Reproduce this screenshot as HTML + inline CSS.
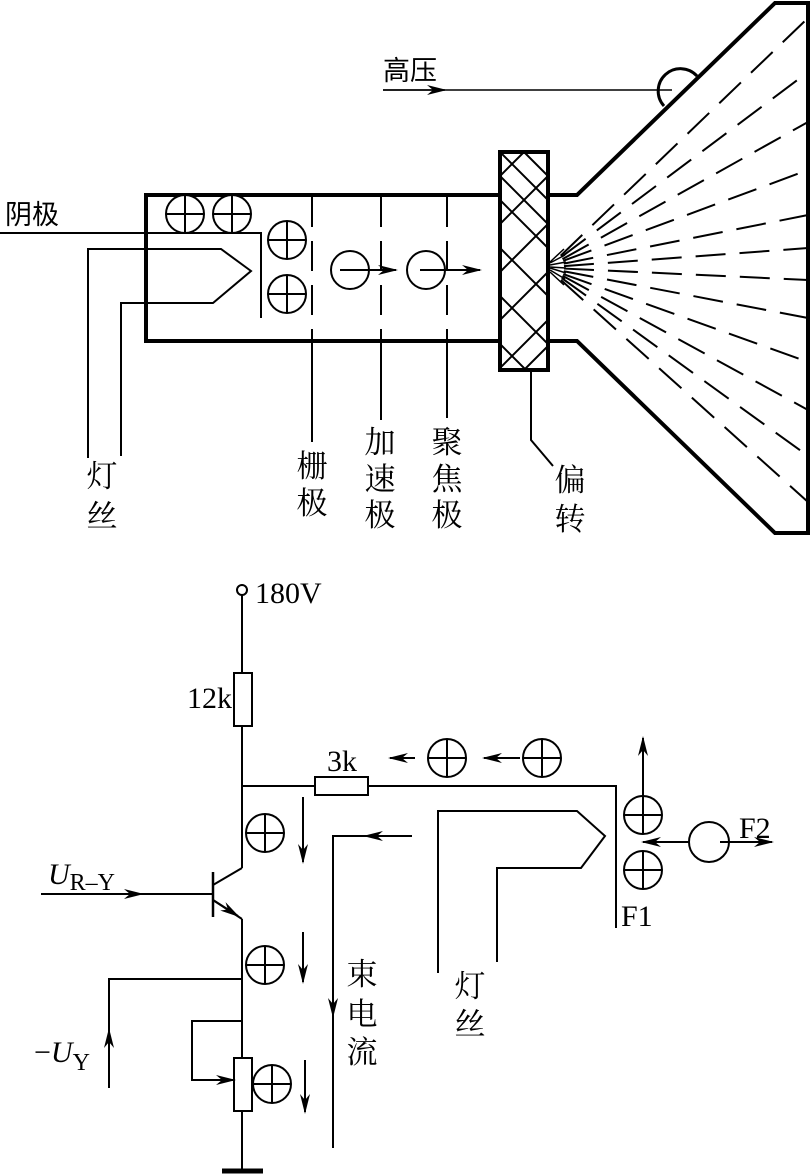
<!DOCTYPE html>
<html><head><meta charset="utf-8"><style>
html,body{margin:0;padding:0;background:#fff}
svg{display:block}
text{font-family:"Liberation Serif","Noto Serif CJK SC","Noto Sans CJK SC",serif;fill:#000}
.cj{font-family:"Noto Sans CJK SC","WenQuanYi Zen Hei",sans-serif;font-size:31px}
</style></head><body>
<svg width="812" height="1174" viewBox="0 0 812 1174" xmlns="http://www.w3.org/2000/svg">
<defs>
<marker id="ah" viewBox="0 0 20 10" refX="18" refY="5" markerWidth="20" markerHeight="10" markerUnits="userSpaceOnUse" orient="auto">
<path d="M0,0 L20,5 L0,10 L6,5 Z" fill="#000"/></marker>
<g id="plus"><circle r="19" fill="#fff" stroke="#000" stroke-width="2"/><line x1="-19" y1="0" x2="19" y2="0" stroke="#000" stroke-width="2"/><line x1="0" y1="-19" x2="0" y2="19" stroke="#000" stroke-width="2"/></g>
<clipPath id="yk"><rect x="500" y="152" width="48" height="218"/></clipPath>
</defs>
<g fill="none" stroke="#000">
<rect x="146" y="195" width="354" height="146" stroke-width="4"/>
<path d="M548 195 L577 195 L775 3 L808 3 L808 533 L775 533 L577 341 L548 341" stroke-width="4"/>
<g clip-path="url(#yk)" stroke-width="2">
<path d="M500 152 L548 200 M500 200 L548 248 M500 248 L548 296 M500 296 L548 344 M500 344 L548 392 M500 104 L548 152 M500 176 L524 152 M500 224 L548 176 M500 272 L548 224 M500 320 L548 272 M500 368 L548 320 M524 370 L548 346 M500 128 L548 80"/>
<path d="M524 152 L548 176 M500 176 L548 224"/>
</g>
<rect x="500" y="152" width="48" height="218" stroke-width="4"/>
<path d="M664 106 A21 21 0 1 1 697 76" stroke-width="3"/>
<line x1="383" y1="90" x2="672" y2="90" stroke-width="1.5"/>
<line x1="383" y1="90" x2="445" y2="90" stroke-width="1.5" marker-end="url(#ah)"/>
<g stroke-width="2" stroke-dasharray="30 14" stroke-dashoffset="-12">
<line x1="552" y1="264" x2="808" y2="18"/>
<line x1="552" y1="264" x2="808" y2="72"/>
<line x1="552" y1="265" x2="808" y2="122"/>
<line x1="552" y1="265" x2="808" y2="170"/>
<line x1="552" y1="266" x2="808" y2="215"/>
<line x1="552" y1="267" x2="808" y2="248"/>
<line x1="552" y1="268" x2="808" y2="280"/>
<line x1="552" y1="269" x2="808" y2="318"/>
<line x1="552" y1="270" x2="808" y2="362"/>
<line x1="552" y1="270" x2="808" y2="410"/>
<line x1="552" y1="271" x2="808" y2="456"/>
<line x1="552" y1="272" x2="808" y2="502"/>
</g>
<g stroke-width="1.5">
<path d="M550 262 L564 249 M550 263 L565 255 M550 265 L566 262 M550 267 L566 268 M550 268 L566 273 M550 270 L565 279 M550 272 L564 285"/>
</g>
<g stroke-width="2" stroke-dasharray="30 14">
<line x1="312" y1="197" x2="312" y2="345"/>
<line x1="381" y1="197" x2="381" y2="345"/>
<line x1="447" y1="197" x2="447" y2="345"/>
</g>
<g stroke-width="2">
<line x1="312" y1="345" x2="312" y2="442"/>
<line x1="381" y1="345" x2="381" y2="420"/>
<line x1="447" y1="345" x2="447" y2="418"/>
<path d="M531 370 L531 440 L553 466"/>
<path d="M0 233 L261 233 L261 318"/>
<path d="M88 458 L88 249 L221 249 L251 271 L213 303 L121 303 L121 456"/>
</g>
<g stroke-width="2">
<circle cx="350" cy="270" r="19"/>
<line x1="340" y1="270" x2="396" y2="270" marker-end="url(#ah)"/>
<circle cx="426" cy="270" r="19"/>
<line x1="420" y1="270" x2="480" y2="270" marker-end="url(#ah)"/>
</g>
</g>
<use href="#plus" x="185" y="214"/>
<use href="#plus" x="232" y="214"/>
<use href="#plus" x="287" y="240"/>
<use href="#plus" x="287" y="294"/>
<text x="383" y="80" class="cj" style="font-size:27px">高压</text>
<text x="5" y="224" class="cj" style="font-size:27px">阴极</text>
<g class="cj" text-anchor="middle">
<text x="102" y="487">灯</text><text x="102" y="527">丝</text>
<text x="312" y="477">栅</text><text x="312" y="514">极</text>
<text x="380" y="453">加</text><text x="380" y="490">速</text><text x="380" y="526">极</text>
<text x="447" y="453">聚</text><text x="447" y="490">焦</text><text x="447" y="526">极</text>
<text x="570" y="491">偏</text><text x="570" y="530">转</text>
</g>

<g fill="none" stroke="#000" stroke-width="2">
<circle cx="242" cy="590" r="5"/>
<line x1="242" y1="595" x2="242" y2="673"/>
<rect x="234" y="673" width="18" height="53" fill="#fff"/>
<line x1="242" y1="726" x2="242" y2="868"/>
<line x1="242" y1="786" x2="315" y2="786"/>
<rect x="315" y="777" width="53" height="18"/>
<path d="M368 786 L616 786 L616 928"/>
<line x1="213" y1="872" x2="213" y2="917" stroke-width="2.5"/>
<line x1="242" y1="868" x2="213" y2="885"/>
<line x1="213" y1="900" x2="242" y2="919"/>
<line x1="213" y1="900" x2="238" y2="916" marker-end="url(#ah)"/>
<line x1="41" y1="894" x2="213" y2="894"/>
<line x1="41" y1="894" x2="142" y2="894" marker-end="url(#ah)"/>
<line x1="242" y1="919" x2="242" y2="1058"/>
<rect x="234" y="1058" width="18" height="53" fill="#fff"/>
<line x1="242" y1="1111" x2="242" y2="1170"/>
<line x1="222" y1="1171" x2="263" y2="1171" stroke-width="5"/>
<path d="M242 979 L109 979 L109 1088"/>
<line x1="109" y1="1070" x2="109" y2="1030" marker-end="url(#ah)"/>
<path d="M242 1021 L192 1021 L192 1080 L234 1080"/>
<line x1="200" y1="1080" x2="234" y2="1080" marker-end="url(#ah)"/>
<line x1="303" y1="797" x2="303" y2="862" marker-end="url(#ah)"/>
<line x1="303" y1="932" x2="303" y2="982" marker-end="url(#ah)"/>
<line x1="305" y1="1060" x2="305" y2="1112" marker-end="url(#ah)"/>
<path d="M333 1148 L333 836 L412 836"/>
<line x1="412" y1="836" x2="365" y2="836" marker-end="url(#ah)"/>
<line x1="333" y1="960" x2="333" y2="1016" marker-end="url(#ah)"/>
<line x1="415" y1="758" x2="390" y2="758" marker-end="url(#ah)"/>
<line x1="520" y1="758" x2="484" y2="758" marker-end="url(#ah)"/>
<path d="M438 973 L438 811 L577 811 L605 836 L581 868 L497 868 L497 962"/>
<line x1="643" y1="798" x2="643" y2="738" marker-end="url(#ah)"/>
<circle cx="709" cy="842" r="20"/>
<line x1="689" y1="842" x2="643" y2="842" marker-end="url(#ah)"/>
<line x1="720" y1="842" x2="772" y2="842" marker-end="url(#ah)"/>
</g>
<use href="#plus" x="265" y="833"/>
<use href="#plus" x="265" y="965"/>
<use href="#plus" x="272" y="1084"/>
<use href="#plus" x="447" y="758"/>
<use href="#plus" x="542" y="758"/>
<use href="#plus" x="643" y="815"/>
<use href="#plus" x="643" y="870"/>
<g style="font-size:30px">
<text x="255" y="603">180V</text>
<text x="187" y="708">12k</text>
<text x="327" y="771">3k</text>
<text x="739" y="838">F2</text>
<text x="621" y="926">F1</text>
<text x="48" y="884"><tspan font-style="italic">U</tspan><tspan font-size="24" dy="6">R–Y</tspan></text>
<text x="34" y="1062">−<tspan font-style="italic">U</tspan><tspan font-size="24" dy="8">Y</tspan></text>
</g>
<g class="cj" text-anchor="middle">
<text x="362" y="985">束</text><text x="362" y="1025">电</text><text x="362" y="1063">流</text>
<text x="470" y="997">灯</text><text x="470" y="1035">丝</text>
</g>
</svg>
</body></html>
